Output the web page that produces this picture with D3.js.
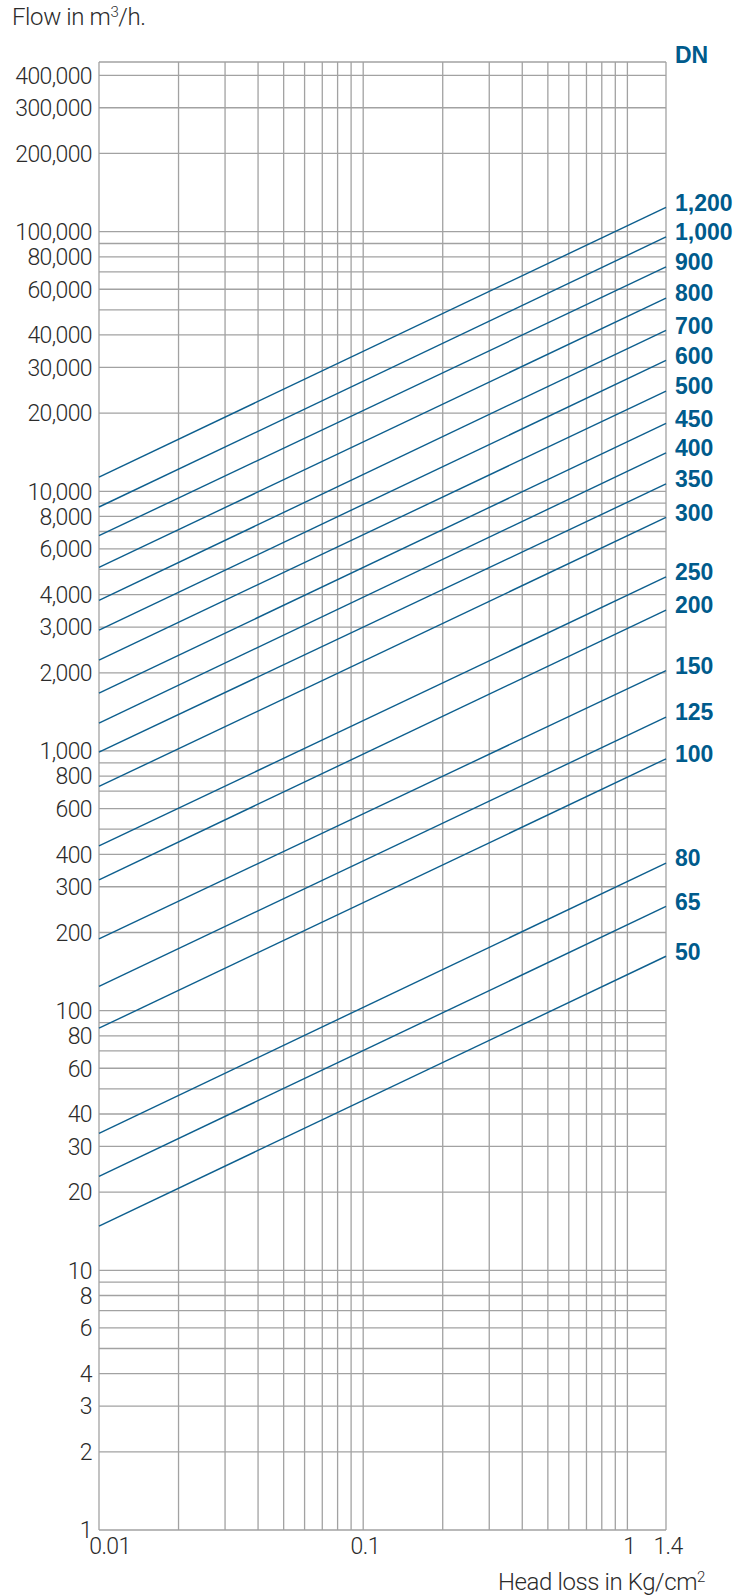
<!DOCTYPE html>
<html>
<head>
<meta charset="utf-8">
<script src="https://cdn.jsdelivr.net/npm/d3@7"></script>
<style>
  body { margin: 0; background: #fff; }
  svg { display: block; }
  .grid line { stroke: #a2a2a2; stroke-width: 1.3; }
  .tick-label { font-family: Roboto, "Liberation Sans", sans-serif; font-weight: 300; font-size: 23px; fill: #2b2b2b; letter-spacing: -0.6px; }
  .dn-label { font-family: "Liberation Sans", Arial, sans-serif; font-weight: bold; font-size: 23px; fill: #005b8c; }
</style>
</head>
<body>
<svg width="751" height="1596"></svg>
<script>
// DN series: flow (m3/h) at 0.01 and at 1.4 kg/cm2
var dnLabels   = ['1,200', '1,000', '900', '800', '700', '600', '500', '450', '400', '350',
                  '300', '250', '200', '150', '125', '100', '80', '65', '50'];
var flowAtLow  = [11350, 8700, 6745, 5090, 3800, 2920, 2240, 1670, 1280, 990,
                  730, 431, 319, 189, 124, 85.6, 33.7, 23.0, 14.8];
var flowAtHigh = [124000, 95400, 73100, 55500, 41700, 31900, 24300, 18260, 14050, 10670,
                  7935, 4680, 3490, 2040, 1350, 933, 370, 252, 162];
var headLossEnds = [0.01, 1.4];

// axis ticks
var xTickLabels = [0.01, 0.1, 1, 1.4];
var yTickLabels = [1, 2, 3, 4, 6, 8, 10, 20, 30, 40, 60, 80, 100, 200, 300, 400, 600, 800,
                   1000, 2000, 3000, 4000, 6000, 8000, 10000, 20000, 30000, 40000, 60000, 80000,
                   100000, 200000, 300000, 400000];
var yDomain = [1, 450000];

var margin = {top: 62, left: 99, right: 85, bottom: 66},
    width = 751 - margin.left - margin.right,
    height = 1596 - margin.top - margin.bottom;

var x = d3.scaleLog().domain(headLossEnds).range([0, width]);
var y = d3.scaleLog().domain(yDomain).range([height, 0]);

var svg = d3.select('svg');
var g = svg.append('g')
    .attr('transform', 'translate(' + margin.left + ',' + margin.top + ')');

// grid: every log tick plus the plot borders
var xGrid = x.ticks().concat([1.4]);
var yGrid = y.ticks().concat([yDomain[1]]);

g.append('g').attr('class', 'grid')
  .selectAll('line').data(xGrid).enter().append('line')
    .attr('x1', function(d) { return x(d); })
    .attr('x2', function(d) { return x(d); })
    .attr('y1', 0).attr('y2', height);

g.append('g').attr('class', 'grid')
  .selectAll('line').data(yGrid).enter().append('line')
    .attr('x1', 0).attr('x2', width)
    .attr('y1', function(d) { return y(d); })
    .attr('y2', function(d) { return y(d); });

// tick labels
var fmt = d3.format(',');
g.selectAll('.ylab').data(yTickLabels).enter().append('text')
    .attr('class', 'tick-label')
    .attr('x', -7)
    .attr('y', function(d) { return y(d); })
    .attr('dy', '0.36em')
    .style('text-anchor', 'end')
    .text(fmt);

g.selectAll('.xlab').data(xTickLabels).enter().append('text')
    .attr('class', 'tick-label')
    .attr('x', function(d) { return x(d); })
    .attr('dx', function(d) { return d === 0.01 ? 11 : 2; })
    .attr('y', height + 24)
    .style('text-anchor', 'middle')
    .text(function(d) { return d; });

// DN lines
var line = d3.line()
    .x(function(d) { return x(d[0]); })
    .y(function(d) { return y(d[1]); });

dnLabels.forEach(function(dn, i) {
  var pts = [[headLossEnds[0], flowAtLow[i]], [headLossEnds[1], flowAtHigh[i]]];
  g.append('path')
    .attr('d', line(pts))
    .attr('fill', 'none')
    .attr('stroke', '#0d5f8e')
    .attr('stroke-width', 1.4);
  g.append('text')
    .attr('class', 'dn-label')
    .attr('x', width + 9)
    .attr('y', y(flowAtHigh[i]) - 5)
    .attr('dy', '0.36em')
    .text(dn);
});

g.append('text')
    .attr('class', 'dn-label')
    .attr('x', width + 9)
    .attr('y', 1)
    .text('DN');

// axis titles
var yTitle = svg.append('text')
    .attr('class', 'tick-label')
    .attr('x', 12).attr('y', 25)
    .style('font-size', '24px')
    .style('letter-spacing', '-0.4px');
yTitle.append('tspan').text('Flow in m');
yTitle.append('tspan').attr('dy', -8).style('font-size', '15px').text('3');
yTitle.append('tspan').attr('dy', 8).text('/h.');

var xTitle = svg.append('text')
    .attr('class', 'tick-label')
    .attr('x', 705).attr('y', 1590)
    .style('text-anchor', 'end')
    .style('font-size', '24px')
    .style('letter-spacing', '-0.4px');
xTitle.append('tspan').text('Head loss in Kg/cm');
xTitle.append('tspan').attr('dy', -8).style('font-size', '15px').text('2');
</script>
</body>
</html>
